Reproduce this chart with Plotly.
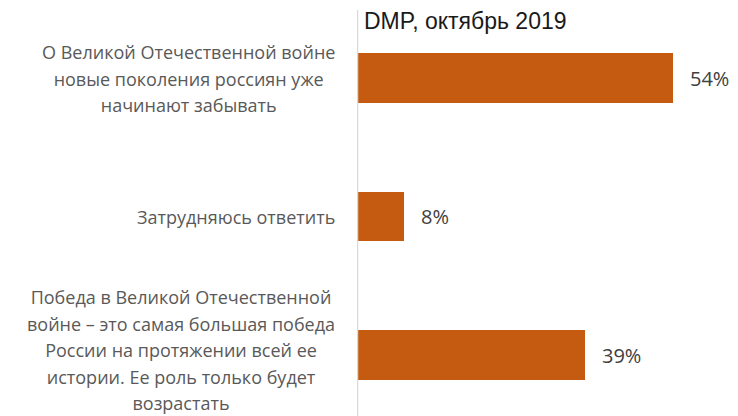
import plotly.graph_objects as go

categories = [
    "О Великой Отечественной войне<br>новые поколения россиян уже<br>начинают забывать",
    "Затрудняюсь ответить",
    "Победа в Великой Отечественной<br>войне – это самая большая победа<br>России на протяжении всей ее<br>истории. Ее роль только будет<br>возрастать",
]
values = [54, 8, 39]
value_labels = ["54%", "8%", "39%"]
title_text = "DMP, октябрь 2019"

# page body has an 8px margin, so the figure is drawn 8px in from the corner
OFF = 8
W, H = 738 - OFF, 416 - OFF
ypos = list(range(len(categories)))

axis_x = 357 - OFF
c0, c2 = 78 - OFF, 355 - OFF

fig = go.Figure()
fig.add_trace(go.Bar(
    x=values, y=ypos, orientation="h",
    marker=dict(color="#C55A11", line=dict(width=0)),
    width=0.36, hoverinfo="skip",
))

label_font = "Open Sans, Noto Sans, sans-serif"
for i, (cat, v, vl) in enumerate(zip(categories, values, value_labels)):
    lines = cat.split("<br>")
    txt = "<br>".join(f'<span style="font-size:18px">{ln}</span>' for ln in lines)
    fig.add_annotation(
        x=0, y=i, xref="x", yref="y", text=txt, showarrow=False,
        xanchor="right", yanchor="middle", align="center", xshift=-20,
        yshift=5 if len(lines) > 3 else 0,
        font=dict(family=label_font, size=20.4, color="#595959"),
    )
    fig.add_annotation(
        x=v, y=i, xref="x", yref="y", text=vl, showarrow=False,
        xanchor="left", yanchor="middle", xshift=15,
        font=dict(family=label_font, size=20, color="#404040"),
    )

fig.add_annotation(
    x=(362 - OFF) / W, y=1 - (21 - OFF) / H, xref="paper", yref="paper", text=title_text,
    showarrow=False, xanchor="left", yanchor="middle",
    font=dict(family="Liberation Sans, Arial, sans-serif", size=23, color="#1a1a1a"),
)

fig.add_shape(type="line", xref="x", yref="paper", x0=0, x1=0,
              y0=0, y1=1 - (10 - OFF) / H, line=dict(color="#D9D9D9", width=2.5))

px_per_unit = (c2 - c0) / 2
y_top = 0 - c0 / px_per_unit
y_bot = 2 + (H - c2) / px_per_unit
x_px_per = (673 - 357) / 54
x_max = (W - axis_x) / x_px_per

fig.update_layout(
    width=W, height=H,
    margin=dict(l=0, r=0, t=0, b=0),
    paper_bgcolor="white", plot_bgcolor="white",
    showlegend=False,
    xaxis=dict(domain=[axis_x / W, 1], range=[0, x_max], visible=False, fixedrange=True),
    yaxis=dict(range=[y_bot, y_top], visible=False, fixedrange=True),
    bargap=0,
)

fig.write_html("out.html", config={"displayModeBar": False})
